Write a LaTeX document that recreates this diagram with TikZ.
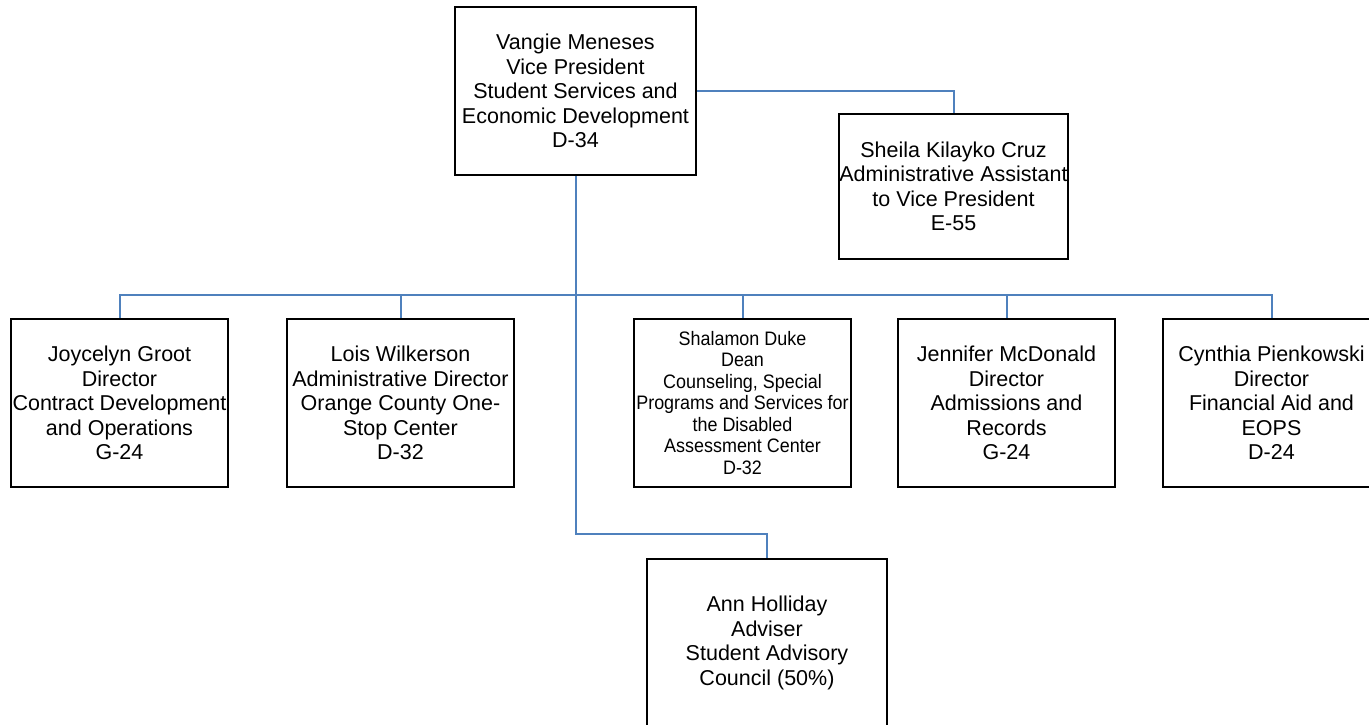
\documentclass[tikz,border=0pt]{standalone}
\usepackage{fontspec}
\setmainfont{Liberation Sans}
\newfontfamily\narrowfont[FakeStretch=0.92]{Liberation Sans}
\definecolor{linkblue}{RGB}{79,129,189}
\begin{document}
\begin{tikzpicture}[x=1pt,y=-1pt,
  box/.style={draw=black,line width=2pt,rectangle,inner sep=0pt,align=center,
    font=\fontsize{21.5}{24.5}\selectfont},
  link/.style={draw=linkblue,line width=2pt}]
\useasboundingbox (0,0) rectangle (1369,724);
% top
\node[box,minimum width=241,minimum height=168] (vp) at (575.5,91)
  {Vangie Meneses\\Vice President\\Student Services and\\Economic Development\\D-34};
\node[box,minimum width=229,minimum height=145] (asst) at (953.5,186.5)
  {Sheila Kilayko Cruz\\Administrative Assistant\\to Vice President\\E-55};
% row
\node[box,minimum width=217,minimum height=168] (b1) at (119.5,403)
  {Joycelyn Groot\\Director\\Contract Development\\and Operations\\G-24};
\node[box,minimum width=227,minimum height=168] (b2) at (400.5,403)
  {Lois Wilkerson\\Administrative Director\\Orange County One-\\Stop Center\\D-32};
\node[box,minimum width=217,minimum height=168,font=\narrowfont\fontsize{19.5}{21.5}\selectfont] (b3) at (742.5,403)
  {Shalamon Duke\\Dean\\Counseling, Special\\Programs and Services for\\the Disabled\\Assessment Center\\D-32};
\node[box,minimum width=217,minimum height=168] (b4) at (1006.5,403)
  {Jennifer McDonald\\Director\\Admissions and\\Records\\G-24};
\node[box,minimum width=217,minimum height=168] (b5) at (1271.5,403)
  {Cynthia Pienkowski\\Director\\Financial Aid and\\EOPS\\D-24};
% bottom
\node[box,minimum width=240,minimum height=168] (ann) at (767,643)
  {Ann Holliday\\Adviser\\Student Advisory\\Council (50\%)};
% connectors
\coordinate (bus) at (575.5,295);
\coordinate (elbow) at (575.5,534);
\draw[link] (vp.east) -| (asst.north);
\draw[link] (vp.south) -- (elbow) -| (ann.north);
\draw[link] (b1.north) |- (bus) -| (b5.north);
\draw[link] (b2.north) -- (b2.north |- bus);
\draw[link] (b3.north) -- (b3.north |- bus);
\draw[link] (b4.north) -- (b4.north |- bus);
\end{tikzpicture}
\end{document}
